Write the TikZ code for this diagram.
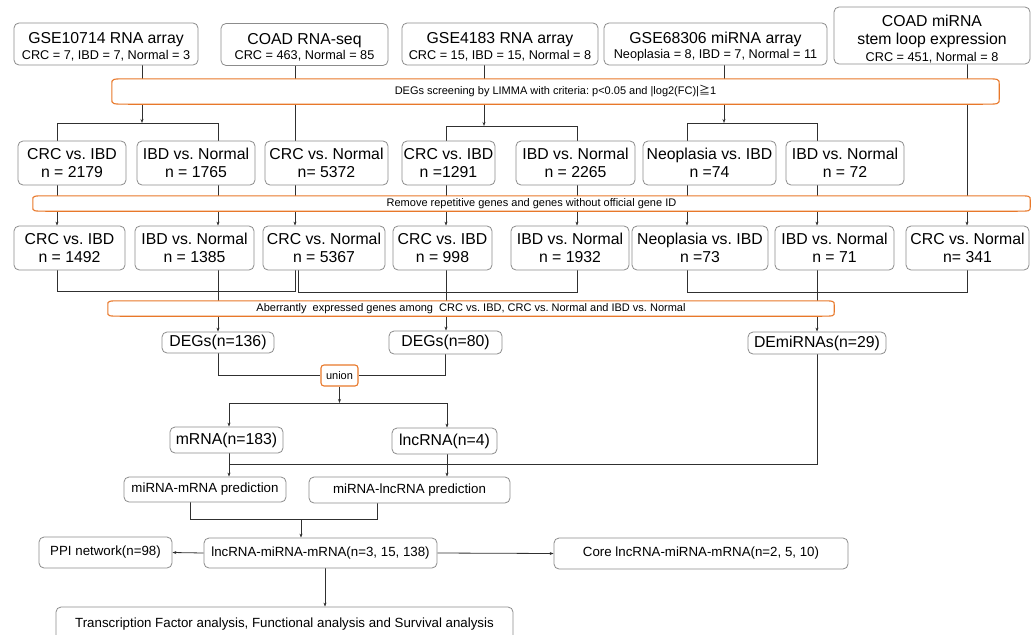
\documentclass[tikz,border=0pt]{standalone}
\usepackage{fontspec}
\setmainfont{Liberation Sans}
\newfontfamily\cjkf{Noto Sans CJK SC}
\usetikzlibrary{arrows.meta,backgrounds}
\definecolor{boxgray}{HTML}{8C8C8C}
\definecolor{bannerorange}{HTML}{E8782A}
\definecolor{linegray}{HTML}{303030}
\newcommand\TitleF{\fontsize{15.8}{17}\selectfont}
\newcommand\SubF{\fontsize{12.7}{15}\selectfont}
\newcommand\BannerShape[3]{%
  \draw[bannerline] ([xshift=#2]#1.north west) -- ([xshift=-#2]#1.north east)
    .. controls (#1.north east) .. ([yshift=-#3]#1.north east)
    -- ([yshift=#3]#1.south east)
    .. controls (#1.south east) .. ([xshift=-#2]#1.south east)
    -- ([xshift=#2]#1.south west)
    .. controls (#1.south west) .. ([yshift=#3]#1.south west)
    -- ([yshift=-#3]#1.north west)
    .. controls (#1.north west) .. cycle;}
\tikzset{
 box/.style={draw=boxgray, line width=0.8pt, rounded corners=5pt, fill=white, align=center, inner sep=0pt, font=\fontsize{15.8}{18}\selectfont},
 sbox/.style={box, font=\fontsize{13.3}{16}\selectfont},
 banner/.style={draw=none, inner sep=0pt, font=\fontsize{11}{13}\selectfont},
 bannerline/.style={draw=bannerorange, line width=1.1pt, fill=white},
 ln/.style={draw=linegray, line width=0.8pt},
 arr/.style={ln, -{Stealth[length=4pt,width=3pt]}},
}
\begin{document}
\frenchspacing
\begin{tikzpicture}[x=1pt,y=-1pt]
\clip (0,0) rectangle (1035,634);
% top row
\node[box, minimum width=184pt, minimum height=42pt] (t1) at (106,44) {{\TitleF\rule{0pt}{17pt}GSE10714 RNA array}\\[-2.5pt]{\SubF CRC = 7, IBD = 7, Normal = 3}};
\node[box, minimum width=167pt, minimum height=42pt] (t2) at (304.5,44.5) {{\TitleF\rule{0pt}{17pt}COAD RNA-seq}\\[-2.5pt]{\SubF CRC = 463, Normal = 85}};
\node[box, minimum width=196pt, minimum height=42pt] (t3) at (500,44) {{\TitleF\rule{0pt}{17pt}GSE4183 RNA array}\\[-2.5pt]{\SubF CRC = 15, IBD = 15, Normal = 8}};
\node[box, minimum width=223pt, minimum height=42pt] (t4) at (715.5,44) {{\TitleF\rule{0pt}{17pt}GSE68306 miRNA array}\\[-2.5pt]{\SubF Neoplasia = 8, IBD = 7, Normal = 11}};
\node[box, minimum width=196pt, minimum height=57pt] (t5) at (932,35.5) {{\TitleF\rule{0pt}{18pt}COAD miRNA}\\[0pt]{\TitleF stem loop expression}\\[-1pt]{\SubF CRC = 451, Normal = 8}};
% banners
\node[banner, minimum width=887pt, minimum height=25pt] (b1) at (555.5,91.5) {};
\node[banner, minimum width=997pt, minimum height=15pt] (b2) at (531.5,203.5) {};
\node[banner, minimum width=726pt, minimum height=15pt] (b3) at (471,308.5) {};
\BannerShape{b1}{18pt}{5pt}
\BannerShape{b2}{16pt}{4pt}
\BannerShape{b3}{16pt}{4pt}
\node[banner] (b1t) at (b1) {DEGs screening by LIMMA with criteria: p<0.05 and |log2(FC)|{\cjkf ≧}1};
\node[banner] (b2t) at (b2) {Remove repetitive genes and genes without official gene ID};
\node[banner] (b3t) at (b3) {Aberrantly\ \ expressed genes among\ \ CRC vs. IBD, CRC vs. Normal and IBD vs. Normal};
% row 2
\node[box, minimum width=108pt, minimum height=44pt] (r2a) at (72,163) {CRC vs. IBD\\n = 2179};
\node[box, minimum width=118pt, minimum height=44pt] (r2b) at (196,163) {IBD vs. Normal\\n = 1765};
\node[box, minimum width=123pt, minimum height=44pt] (r2c) at (326.5,163) {CRC vs. Normal\\n= 5372};
\node[box, minimum width=93pt, minimum height=44pt] (r2d) at (448.5,163) {CRC vs. IBD\\n =1291};
\node[box, minimum width=119pt, minimum height=44pt] (r2e) at (575.5,163) {IBD vs. Normal\\n = 2265};
\node[box, minimum width=133pt, minimum height=44pt] (r2f) at (709.5,163) {Neoplasia vs. IBD\\n =74};
\node[box, minimum width=118pt, minimum height=44pt] (r2g) at (845,163) {IBD vs. Normal\\n = 72};
% row 3
\node[box, minimum width=111pt, minimum height=44pt] (r3a) at (69.5,248) {CRC vs. IBD\\n = 1492};
\node[box, minimum width=119pt, minimum height=44pt] (r3b) at (194.5,248) {IBD vs. Normal\\n = 1385};
\node[box, minimum width=122pt, minimum height=44pt] (r3c) at (324,248) {CRC vs. Normal\\n = 5367};
\node[box, minimum width=99pt, minimum height=44pt] (r3d) at (442.5,248) {CRC vs. IBD\\n = 998};
\node[box, minimum width=118pt, minimum height=44pt] (r3e) at (570,248) {IBD vs. Normal\\n = 1932};
\node[box, minimum width=136pt, minimum height=44pt] (r3f) at (700,248) {Neoplasia vs. IBD\\n =73};
\node[box, minimum width=119pt, minimum height=44pt] (r3g) at (834.5,248) {IBD vs. Normal\\n = 71};
\node[box, minimum width=123pt, minimum height=44pt] (r3h) at (967.5,248) {CRC vs. Normal\\n= 341};
% DEGs
\node[box, minimum width=112pt, minimum height=21pt] (d1) at (218,342.5) {DEGs(n=136)};
\node[box, minimum width=113pt, minimum height=23pt] (d2) at (445.5,342.5) {DEGs(n=80)};
\node[box, minimum width=138pt, minimum height=22pt] (d3) at (817,343) {DEmiRNAs(n=29)};
\node[box, draw=bannerorange, line width=1.1pt, rounded corners=3pt, minimum width=37pt, minimum height=21pt, font=\fontsize{11}{13}\selectfont] (u) at (339.5,375.5) {union};
\node[box, minimum width=113pt, minimum height=26pt] (mr) at (226.5,440) {mRNA(n=183)};
\node[box, minimum width=105pt, minimum height=26pt] (lr) at (444.5,441) {lncRNA(n=4)};
\node[sbox, minimum width=162pt, minimum height=25pt] (pm) at (205,489.5) {miRNA-mRNA prediction};
\node[sbox, minimum width=201pt, minimum height=26pt] (pl) at (409.5,490) {miRNA-lncRNA prediction};
\node[sbox, minimum width=233pt, minimum height=30pt] (lmm) at (320.5,553) {lncRNA-miRNA-mRNA(n=3, 15, 138)};
\node[sbox, minimum width=133pt, minimum height=31pt] (ppi) at (105.5,552.5) {PPI network(n=98)};
\node[sbox, minimum width=294pt, minimum height=31pt] (core) at (701,553.5) {Core lncRNA-miRNA-mRNA(n=2, 5, 10)};
\node[sbox, minimum width=457pt, minimum height=34pt] (tf) at (284.5,624) {Transcription Factor analysis, Functional analysis and Survival analysis};
% column / level coordinates
\coordinate (cE) at (967,0);
\coordinate (k1) at (57,0);
\coordinate (k2) at (218,0);
\coordinate (k3) at (295,0);
\coordinate (k3b) at (298.5,0);
\coordinate (k4) at (446,0);
\coordinate (k5) at (577,0);
\coordinate (k6) at (687,0);
\coordinate (k7) at (817,0);
\coordinate (h1) at (142,123);
\coordinate (h3) at (484,126);
\coordinate (h4) at (724,123);
\coordinate (g1) at (0,291);
\coordinate (g2) at (0,292);
\coordinate (hm) at (0,403);
\coordinate (m1) at (229,0);
\coordinate (m2) at (447,0);
\coordinate (hmi) at (0,464);
\coordinate (p1) at (190,0);
\coordinate (p2) at (377,0);
\coordinate (p3) at (301,0);
\coordinate (hp) at (0,519);
\coordinate (f) at (325,0);
\begin{scope}[on background layer]
\draw[arr] (t1.south -| h1) -- (h1);
\draw[ln] (r2a.north -| k1) -- (k1 |- h1) -- (k2 |- h1) -- (r2b.north -| k2);
\draw[ln] (t2.south -| k3) -- (r2c.north -| k3);
\draw[arr] (t3.south -| h3) -- (h3);
\draw[ln] (r2d.north -| k4) -- (k4 |- h3) -- (k5 |- h3) -- (r2e.north -| k5);
\draw[arr] (t4.south -| h4) -- (h4);
\draw[ln] (r2f.north -| k6) -- (k6 |- h4) -- (k7 |- h4) -- (r2g.north -| k7);
\draw[arr] (t5.south -| cE) -- (r3h.north -| cE);
\foreach \a/\b/\k in {r2a/r3a/k1, r2b/r3b/k2, r2c/r3c/k3, r2d/r3d/k4, r2e/r3e/k5, r2f/r3f/k6, r2g/r3g/k7}
  \draw[arr] (\a.south -| \k) -- (\b.north -| \k);
\draw[ln] (r3a.south -| k1) -- (k1 |- g1) -- (k3 |- g1) -- (r3c.south -| k3);
\draw[ln] (r3c.south -| k3b) -- (k3b |- g2) -- (k5 |- g2) -- (r3e.south -| k5);
\draw[ln] (r3f.south -| k6) -- (k6 |- g2) -- (cE |- g2) -- (r3h.south -| cE);
\draw[arr] (r3b.south -| k2) -- (d1.north -| k2);
\draw[arr] (r3d.south -| k4) -- (d2.north -| k4);
\draw[arr] (r3g.south -| k7) -- (d3.north -| k7);
\draw[ln] (d1.south) |- (u.west);
\draw[ln] (d2.south) |- (u.east);
\draw[arr] (u.south) -- (u.south |- hm);
\draw[ln] (m1 |- hm) -- (m2 |- hm);
\draw[arr] (m1 |- hm) -- (mr.north -| m1);
\draw[arr] (m2 |- hm) -- (lr.north -| m2);
\draw[ln] (d3.south) |- (m1 |- hmi);
\draw[arr] (mr.south -| m1) -- (pm.north -| m1);
\draw[arr] (lr.south -| m2) -- (pl.north -| m2);
\draw[ln] (pm.south -| p1) -- (p1 |- hp) -- (p2 |- hp) -- (pl.south -| p2);
\draw[arr] (p3 |- hp) -- (lmm.north -| p3);
\draw[arr] (lmm.west) -- (ppi.east);
\draw[arr] (lmm.east) -- (core.west);
\draw[arr] (lmm.south -| f) -- (tf.north -| f);
\end{scope}
\end{tikzpicture}
\end{document}
